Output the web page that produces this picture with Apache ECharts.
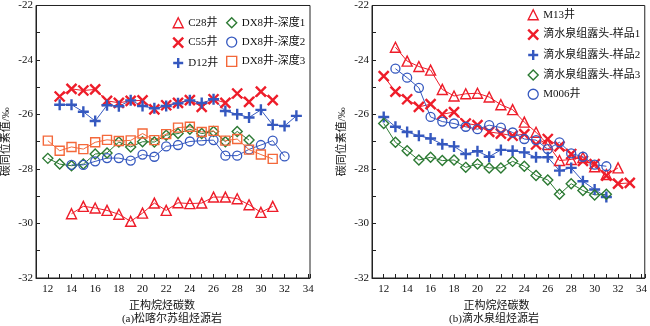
<!DOCTYPE html>
<html>
<head>
<meta charset="utf-8">
<script src="https://cdn.jsdelivr.net/npm/echarts@6/dist/echarts.min.js"></script>
<style>
  html, body { margin: 0; padding: 0; background: #fff; }
  #chart { width: 650px; height: 326px; }
</style>
</head>
<body>
<div id="chart"></div>
<script>
// Carbon numbers of the n-alkanes (x values shared by every series)
const carbon = [12, 13, 14, 15, 16, 17, 18, 19, 20, 21, 22, 23, 24, 25, 26, 27, 28, 29, 30, 31, 32, 33];

// (a) 松喀尔苏组烃源岩 — δ13C (‰) per carbon number
const c28 = [null, null, -29.64, -29.37, -29.43, -29.52, -29.66, -29.92, -29.62, -29.25, -29.52, -29.24, -29.27, -29.25, -29.03, -29.03, -29.09, -29.31, -29.59, -29.37, null, null];
const c55 = [null, -25.34, -25.06, -25.12, -25.08, -25.50, -25.57, -25.50, -25.48, -25.81, -25.66, -25.57, -25.47, -25.72, -25.44, -25.57, -25.23, -25.54, -25.16, -25.47, null, null];
const d12 = [null, -25.64, -25.64, -25.90, -26.24, -25.66, -25.70, -25.48, -25.69, -25.77, -25.69, -25.59, -25.48, -25.58, -25.44, -25.87, -25.99, -26.11, -25.83, -26.38, -26.42, -26.05];
const dx8d1 = [-27.61, -27.82, -27.88, -27.82, -27.45, -27.41, -27.01, -27.19, -27.00, -27.01, -26.76, -26.70, -26.54, -26.70, -26.62, -27.00, -26.62, -26.94, null, null, null, null];
const dx8d2 = [null, null, -27.85, -27.85, -27.72, -27.60, -27.60, -27.69, -27.47, -27.55, -27.17, -27.12, -26.99, -26.96, -26.94, -27.51, -27.51, -27.28, -27.12, -26.96, -27.54, null];
const dx8d3 = [-26.96, -27.33, -27.19, -27.27, -27.02, -26.93, -26.97, -26.95, -26.70, -26.94, -26.72, -26.48, -26.45, -26.64, -26.60, -26.96, -26.90, -27.29, -27.47, -27.63, null, null];

// (b) 滴水泉组烃源岩 — δ13C (‰) per carbon number
const m13 = [null, -23.53, -24.04, -24.24, -24.37, -25.08, -25.32, -25.24, -25.22, -25.36, -25.64, -25.82, -26.28, -26.65, -27.10, -27.69, -27.65, -27.58, -27.92, -28.20, -27.96, null];
const outcrop1 = [-24.59, -25.16, -25.44, -25.72, -25.62, -25.99, -25.91, -26.33, -26.39, -26.64, -26.70, -26.78, -26.72, -27.10, -26.90, -27.17, -27.45, -27.70, -27.82, -28.24, -28.54, -28.51];
const outcrop2 = [-26.09, -26.45, -26.64, -26.78, -26.88, -27.09, -27.17, -27.45, -27.35, -27.55, -27.30, -27.33, -27.39, -27.57, -27.57, -28.06, -27.96, -28.45, -28.75, -29.03, null, null];
const outcrop3 = [-26.33, -27.02, -27.33, -27.67, -27.57, -27.69, -27.67, -27.94, -27.82, -27.96, -27.96, -27.72, -27.90, -28.24, -28.40, -28.93, -28.54, -28.79, -28.95, -28.93, null, null];
const m006 = [null, -24.32, -24.65, -25.02, -26.09, -26.26, -26.33, -26.45, -26.54, -26.39, -26.48, -26.66, -26.90, -26.94, -27.27, -27.02, -27.43, -27.55, -27.84, -27.90, null, null];

// Tick labels
const xTickLabels = [12, 14, 16, 18, 20, 22, 24, 26, 28, 30, 32, 34];
const yTickLabels = [-32, -30, -28, -26, -24, -22];

const RED = '#ee1d2a';
const BLUE = '#3558bf';
const GREEN = '#2c7a33';
const ORANGE = '#f4683a';
const FONT = '"Liberation Serif", "Times New Roman", "Noto Sans CJK SC", serif';

const SYM_X = 'path://M0,0L10,10M10,0L0,10';
const SYM_PLUS = 'path://M5,0L5,10M0,5L10,5';

const marks = {
  tri:   { symbol: 'triangle', size: 10, bw: 1.4 },
  cross: { symbol: SYM_X, size: 10, bw: 2.4 },
  plus:  { symbol: SYM_PLUS, size: 11, bw: 2.4 },
  dia:   { symbol: 'diamond', size: 10, bw: 1.4 },
  circ:  { symbol: 'circle', size: 9, bw: 1.3 },
  sq:    { symbol: 'rect', size: 9, bw: 1.4 }
};

function pairs(values) {
  return carbon.map((n, i) => [n, values[i]]).filter(p => p[1] !== null);
}

function makeSeries(name, values, mark, color, gridIdx) {
  const m = marks[mark];
  return {
    name: name,
    type: 'line',
    xAxisIndex: gridIdx,
    yAxisIndex: gridIdx,
    data: pairs(values),
    symbol: m.symbol,
    symbolSize: m.size,
    showAllSymbol: true,
    lineStyle: { color: color, width: 1 },
    itemStyle: { color: 'rgba(0,0,0,0)', borderColor: color, borderWidth: m.bw },
    emphasis: { disabled: true },
    animation: false
  };
}

function legendItem(name, mark, color) {
  const m = marks[mark];
  return {
    name: name,
    icon: m.symbol,
    itemStyle: { color: 'rgba(0,0,0,0)', borderColor: color, borderWidth: m.bw }
  };
}

const seriesDefs = [
  ['C28井', c28, 'tri', RED, 0],
  ['C55井', c55, 'cross', RED, 0],
  ['D12井', d12, 'plus', BLUE, 0],
  ['DX8井-深度1', dx8d1, 'dia', GREEN, 0],
  ['DX8井-深度2', dx8d2, 'circ', BLUE, 0],
  ['DX8井-深度3', dx8d3, 'sq', ORANGE, 0],
  ['M13井', m13, 'tri', RED, 1],
  ['滴水泉组露头-样品1', outcrop1, 'cross', RED, 1],
  ['滴水泉组露头-样品2', outcrop2, 'plus', BLUE, 1],
  ['滴水泉组露头-样品3', outcrop3, 'dia', GREEN, 1],
  ['M006井', m006, 'circ', BLUE, 1]
];

const legendStyle = {
  orient: 'vertical',
  padding: 0,
  itemWidth: 10,
  itemHeight: 10,
  itemGap: 8,
  selectedMode: false,
  textStyle: { fontFamily: FONT, fontSize: 11, color: '#111' }
};

function xAxisDef(gridIdx, max, nameShift) {
  return {
    type: 'value',
    gridIndex: gridIdx,
    min: 11,
    max: max,
    interval: 1,
    name: '正构烷烃碳数',
    nameLocation: 'middle',
    nameGap: 23,
    nameTextStyle: { fontFamily: FONT, fontSize: 11, color: '#111', padding: [0, nameShift, 0, 0] },
    axisLine: { lineStyle: { color: '#222', width: 1 } },
    axisTick: { inside: true, length: 4, lineStyle: { color: '#222' } },
    axisLabel: {
      margin: 6,
      fontFamily: FONT, fontSize: 11, color: '#111',
      formatter: v => (xTickLabels.indexOf(v) >= 0 ? String(v) : '')
    },
    splitLine: { show: false }
  };
}

function yAxisDef(gridIdx) {
  return {
    type: 'value',
    gridIndex: gridIdx,
    min: -32,
    max: -22,
    interval: 1,
    name: '碳同位素值/‰',
    nameLocation: 'middle',
    nameRotate: 90,
    nameGap: 24,
    nameTextStyle: { fontFamily: FONT, fontSize: 11, color: '#111' },
    axisLine: { show: true, lineStyle: { color: '#222', width: 1 } },
    axisTick: { inside: true, length: 4, lineStyle: { color: '#222' } },
    axisLabel: {
      margin: 3,
      fontFamily: FONT, fontSize: 11, color: '#111',
      formatter: v => (yTickLabels.indexOf(v) >= 0 ? String(v) : '')
    },
    splitLine: { show: false }
  };
}

const option = {
  backgroundColor: '#fff',
  animation: false,
  title: [
    { text: '(a)松喀尔苏组烃源岩', left: 172, top: 314, padding: 0, textAlign: 'center',
      textStyle: { fontFamily: FONT, fontSize: 11, fontWeight: 'normal', color: '#111' } },
    { text: '(b)滴水泉组烃源岩', left: 494, top: 314, padding: 0, textAlign: 'center',
      textStyle: { fontFamily: FONT, fontSize: 11, fontWeight: 'normal', color: '#111' } }
  ],
  grid: [
    { left: 36, right: 340, top: 4, bottom: 48, show: true, borderColor: '#222', borderWidth: 1, backgroundColor: 'transparent' },
    { left: 372, right: 4, top: 4, bottom: 48, show: true, borderColor: '#222', borderWidth: 1, backgroundColor: 'transparent' }
  ],
  xAxis: [xAxisDef(0, 34.15, 22), xAxisDef(1, 34.28, 24)],
  yAxis: [yAxisDef(0), yAxisDef(1)],
  legend: [
    Object.assign({ left: 172, top: 17, data: [
      legendItem('C28井', 'tri', RED),
      legendItem('C55井', 'cross', RED),
      legendItem('D12井', 'plus', BLUE)
    ] }, legendStyle),
    Object.assign({ left: 226, top: 17, data: [
      legendItem('DX8井-深度1', 'dia', GREEN),
      legendItem('DX8井-深度2', 'circ', BLUE),
      legendItem('DX8井-深度3', 'sq', ORANGE)
    ] }, legendStyle),
    Object.assign({ left: 527, top: 9, data: [
      legendItem('M13井', 'tri', RED),
      legendItem('滴水泉组露头-样品1', 'cross', RED),
      legendItem('滴水泉组露头-样品2', 'plus', BLUE),
      legendItem('滴水泉组露头-样品3', 'dia', GREEN),
      legendItem('M006井', 'circ', BLUE)
    ] }, legendStyle)
  ],
  series: seriesDefs.map(d => makeSeries(d[0], d[1], d[2], d[3], d[4]))
};

const chart = echarts.init(document.getElementById('chart'), null, { renderer: 'canvas' });
chart.setOption(option);
</script>
</body>
</html>
